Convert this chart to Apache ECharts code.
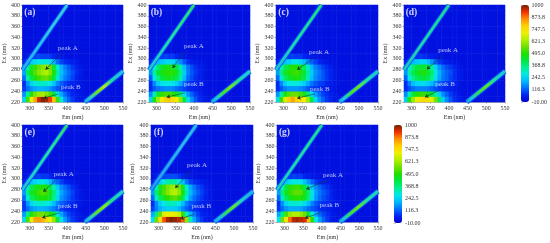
<!DOCTYPE html>
<html><head><meta charset="utf-8">
<style>html,body{margin:0;padding:0;background:#fff}#main{width:550px;height:243px;filter:blur(0.6px)}</style>
<script src="https://cdn.jsdelivr.net/npm/echarts@6/dist/echarts.min.js"></script>
</head><body><div id="main"></div>
<script>
const emBins=[285,295,305,315,325,335,345,355,365,375,385,395,405,415,425,435,445,455,465,475,485,495,505,515,525,535,545];
const exBins=[225,235,245,255,265,275,285,295,305];
const emTicks=[300,350,400,450,500,550];
const exTicks=[220,240,260,280,300,320,340,360,380,400];
const colorTicks=[-10,116.3,242.5,368.8,495,621.3,747.5,873.8,1000];
const colorTickLabels=['-10.00','116.3','242.5','368.8','495.0','621.3','747.5','873.8','1000'];
const panelNames=['(a)','(b)','(c)','(d)','(e)','(f)','(g)'];
const backgroundLevel=25;
const rayleighLine=[[280,280],[400,400]];
const secondOrderLine=[[448,220],[550,277]];
const lowerA=[
[250,520,700,830,950,990,970,920,800,520,300,180,120,80,50,40,30,25,25,25,25,25,25,25,25,25,25],
[170,340,500,580,620,630,600,540,430,290,190,130,90,60,50,40,30,25,25,25,25,25,25,25,25,25,25],
[80,130,170,190,200,200,190,170,140,110,90,70,60,50,40,30,30,25,25,25,25,25,25,25,25,25,25],
[70,170,250,290,310,310,300,280,230,160,120,90,70,60,50,40,30,25,25,25,25,25,25,25,25,25,25],
[130,330,420,480,520,550,560,520,430,300,200,150,120,90,60,40,30,25,25,25,25,25,25,25,25,25,25],
[190,400,480,540,590,620,640,590,490,340,220,170,130,100,70,50,30,25,25,25,25,25,25,25,25,25,25],
[170,340,450,510,560,590,610,560,450,300,200,150,110,80,60,40,30,25,25,25,25,25,25,25,25,25,25],
[60,130,230,260,280,290,290,260,200,130,90,70,60,50,40,30,25,25,25,25,25,25,25,25,25,25,25],
[30,40,70,90,100,90,90,80,60,50,40,30,25,25,25,25,25,25,25,25,25,25,25,25,25,25,25]];
const lowerB=[
[240,470,620,720,780,790,760,700,600,430,260,170,110,70,50,40,30,25,25,25,25,25,25,25,25,25,25],
[160,320,450,510,530,530,500,450,370,260,170,120,80,60,40,30,25,25,25,25,25,25,25,25,25,25,25],
[70,110,140,150,160,160,150,130,110,90,70,60,50,40,30,30,25,25,25,25,25,25,25,25,25,25,25],
[70,160,230,270,280,280,270,240,190,130,90,70,60,50,40,30,25,25,25,25,25,25,25,25,25,25,25],
[120,280,370,420,450,460,450,410,330,210,130,100,70,50,40,30,25,25,25,25,25,25,25,25,25,25,25],
[170,340,430,470,490,500,500,450,360,240,150,110,80,60,40,30,25,25,25,25,25,25,25,25,25,25,25],
[150,300,390,440,470,480,470,420,330,210,140,100,70,50,40,30,25,25,25,25,25,25,25,25,25,25,25],
[60,120,210,230,250,260,250,210,160,110,70,50,40,30,30,25,25,25,25,25,25,25,25,25,25,25,25],
[30,40,60,80,90,80,80,60,50,40,30,30,25,25,25,25,25,25,25,25,25,25,25,25,25,25,25]];
const lowerC=[
[260,520,680,790,830,780,760,720,620,420,260,170,120,80,60,40,30,25,25,25,25,25,25,25,25,25,25],
[170,340,480,540,560,560,530,480,380,260,180,130,90,70,50,40,30,25,25,25,25,25,25,25,25,25,25],
[70,110,150,170,170,170,160,140,110,90,80,70,60,50,40,30,25,25,25,25,25,25,25,25,25,25,25],
[70,160,240,280,290,290,270,240,190,140,110,90,80,60,50,40,30,25,25,25,25,25,25,25,25,25,25],
[130,300,390,440,470,480,460,410,320,220,160,130,110,80,60,40,30,25,25,25,25,25,25,25,25,25,25],
[180,360,450,490,510,520,500,430,340,240,170,140,110,80,60,40,30,25,25,25,25,25,25,25,25,25,25],
[160,320,410,460,490,490,460,400,310,210,150,120,90,70,50,30,25,25,25,25,25,25,25,25,25,25,25],
[60,120,220,240,270,280,250,210,160,120,90,60,50,40,30,30,25,25,25,25,25,25,25,25,25,25,25],
[30,40,60,80,90,80,80,60,50,40,30,30,25,25,25,25,25,25,25,25,25,25,25,25,25,25,25]];
const lowerD=[
[240,480,610,700,750,770,750,690,580,400,240,160,110,70,50,40,30,25,25,25,25,25,25,25,25,25,25],
[160,320,440,490,510,510,480,420,340,240,160,120,80,60,40,30,25,25,25,25,25,25,25,25,25,25,25],
[70,100,130,150,150,150,140,120,100,80,70,60,50,40,30,30,25,25,25,25,25,25,25,25,25,25,25],
[70,150,220,250,260,260,240,210,160,120,100,80,70,50,40,30,25,25,25,25,25,25,25,25,25,25,25],
[120,280,360,400,420,430,410,350,270,190,140,120,90,70,50,40,25,25,25,25,25,25,25,25,25,25,25],
[170,330,410,450,470,480,450,380,290,200,150,120,100,70,50,40,25,25,25,25,25,25,25,25,25,25,25],
[150,300,380,420,440,450,420,350,250,170,130,100,80,60,40,30,25,25,25,25,25,25,25,25,25,25,25],
[60,120,210,230,250,250,220,170,120,80,60,50,40,30,30,25,25,25,25,25,25,25,25,25,25,25,25],
[30,40,60,70,80,70,60,50,40,30,30,25,25,25,25,25,25,25,25,25,25,25,25,25,25,25,25]];
const lowerE=[
[260,530,700,830,840,820,760,700,610,440,270,180,120,80,60,40,30,25,25,25,25,25,25,25,25,25,25],
[180,360,490,540,570,570,540,500,430,290,190,130,90,70,50,40,30,25,25,25,25,25,25,25,25,25,25],
[80,130,170,190,200,200,190,170,150,120,90,70,60,50,40,30,25,25,25,25,25,25,25,25,25,25,25],
[80,170,250,290,300,300,290,270,220,160,120,100,80,70,50,40,30,25,25,25,25,25,25,25,25,25,25],
[130,300,390,440,470,490,480,440,360,260,170,140,110,80,60,40,30,25,25,25,25,25,25,25,25,25,25],
[180,360,440,490,520,540,520,460,380,280,190,150,120,90,60,40,30,25,25,25,25,25,25,25,25,25,25],
[160,320,410,450,480,490,470,410,330,230,160,130,100,70,50,30,25,25,25,25,25,25,25,25,25,25,25],
[60,120,220,250,270,280,260,210,160,120,90,60,50,40,30,30,25,25,25,25,25,25,25,25,25,25,25],
[30,40,60,80,90,80,80,60,50,40,30,30,25,25,25,25,25,25,25,25,25,25,25,25,25,25,25]];
const lowerF=[
[270,560,760,900,970,990,980,960,900,600,320,190,120,80,50,40,30,25,25,25,25,25,25,25,25,25,25],
[190,370,560,690,710,720,700,660,520,320,200,140,90,60,50,40,30,25,25,25,25,25,25,25,25,25,25],
[90,150,200,230,240,240,230,200,160,120,90,70,60,50,40,30,30,25,25,25,25,25,25,25,25,25,25],
[70,160,240,280,310,320,310,280,220,150,110,90,70,60,50,40,30,25,25,25,25,25,25,25,25,25,25],
[130,310,400,450,500,530,550,510,410,280,180,130,100,80,50,40,30,25,25,25,25,25,25,25,25,25,25],
[180,380,470,540,590,630,650,600,480,330,210,160,120,90,60,40,30,25,25,25,25,25,25,25,25,25,25],
[150,330,450,520,580,610,620,570,450,300,190,140,100,80,50,40,25,25,25,25,25,25,25,25,25,25,25],
[60,130,240,290,330,350,340,290,220,140,90,70,60,50,40,30,25,25,25,25,25,25,25,25,25,25,25],
[30,40,70,90,100,100,100,80,60,50,40,30,25,25,25,25,25,25,25,25,25,25,25,25,25,25,25]];
const lowerG=[
[280,560,740,880,960,970,960,940,800,480,280,180,120,80,50,40,30,25,25,25,25,25,25,25,25,25,25],
[190,370,530,610,640,640,610,560,440,280,190,130,90,70,50,40,30,25,25,25,25,25,25,25,25,25,25],
[80,130,170,190,190,190,180,160,130,110,90,70,60,50,40,30,25,25,25,25,25,25,25,25,25,25,25],
[70,170,250,290,300,300,290,260,210,150,110,90,70,60,50,40,30,25,25,25,25,25,25,25,25,25,25],
[130,310,400,450,490,500,490,450,370,260,170,130,100,80,60,40,30,25,25,25,25,25,25,25,25,25,25],
[180,370,460,510,540,550,540,470,380,270,180,140,110,90,60,40,30,25,25,25,25,25,25,25,25,25,25],
[160,330,430,480,510,520,490,420,320,220,160,120,90,70,50,30,25,25,25,25,25,25,25,25,25,25,25],
[60,130,230,260,280,290,270,220,170,120,80,60,50,40,30,30,25,25,25,25,25,25,25,25,25,25,25],
[30,40,60,80,90,80,80,60,50,40,30,30,25,25,25,25,25,25,25,25,25,25,25,25,25,25,25]];
const panelLower=[lowerA,lowerB,lowerC,lowerD,lowerE,lowerF,lowerG];
// colours read along each scatter band, low end to high end
const rayleighColors=[
['#20b0f0','#30c0e8','#40d0d8'],
['#20c0e0','#20e0a0','#30e060'],
['#20c0d8','#20dca0','#20e070'],
['#20c8c0','#20d8a0','#20d890'],
['#20c0e0','#20e0a8','#30e060'],
['#2098f0','#30b0e8','#30c0e0'],
['#20c8c8','#20dca0','#20e080']];
const secondOrderColors=[
['#1890f0','#20c8e0','#70e020','#c0e810','#20d8a0','#20c0e0','#20c8e0'],
['#1890f0','#20c8d8','#40e030','#80e020','#20e090','#20c8d8','#20d8c0'],
['#1890f0','#20c8d8','#40e030','#70e020','#20e090','#20c8d0','#20d0b0'],
['#1890f0','#20c0d8','#30e050','#60e020','#20e090','#20c8d0','#20c8c0'],
['#1890f0','#20c8d8','#60e020','#90e810','#20e080','#20d0c8','#20d8b0'],
['#1890f0','#20b8e8','#30e050','#70e020','#20d0c0','#20b0e8','#20b8e8'],
['#1890f0','#20c8d0','#40e030','#70e020','#20e090','#20d0c8','#20d8a8']];
// label and arrow anchors in data units: [Em, Ex]
const peakALabels=[[402,319],[400,324],[394,312],[398,317],[391,309],[402,325],[430,307]];
const peakBLabels=[[410,248],[400,254],[396,244],[390,253],[402,250],[413,250],[420,251]];
const arrowsA=[[[386,311],[342,280]],[[376,314],[343,283]],[[377,300],[336,280]],[[381,304],[341,281]],[[373,300],[336,276]],[[386,315],[344,283]],[[413,297],[358,281]]];
const arrowsB=[[[377,235],[337,227]],[[376,237],[327,229]],[[383,235],[336,227]],[[372,241],[336,229]],[[380,237],[333,228]],[[393,234],[358,226]],[[398,238],[355,227]]];
const nameAnchor=[300,386];

const boxes=[[22,5,101,97],[149,5,101,97],[276,5,102,97],[404,5,101,97],[22,125,101,97],[151,125,102,97],[277,125,101,97]];
const barBoxes=[[521,5,8,97],[394,125,8,98]];
const ramp=['#0000d0','#0024f0','#0070ff','#00b8ff','#00e8e8','#00f090','#00e840','#20e000','#70e000','#b0f000','#f0f000','#ffd000','#ff9000','#f03000','#702000'];
const FONT='"Liberation Serif",serif', INK='#333';
const grid=[],xAxis=[],yAxis=[],series=[],overlay=[];
const gradient=(cols,x2,y2,y)=>({type:'linear',x:0,y:y,x2:x2,y2:y2,colorStops:cols.map((c,i)=>({offset:i/(cols.length-1),color:c}))});
const bandLine=(i,pts,cols,width)=>({type:'line',xAxisIndex:2*i+1,yAxisIndex:2*i+1,data:pts,showSymbol:false,silent:true,z:3,clip:true,
  lineStyle:{width,cap:'butt',color:gradient(cols,1,0,1)}});
panelLower.forEach((lower,i)=>{
  const [l,t,w,h]=boxes[i];
  grid.push({left:l,top:t,width:w,height:h});
  const exAll=exBins.concat([315,325,335,345,355,365,375,385,395]);
  xAxis.push({type:'category',gridIndex:i,data:emBins.map(String),show:false});
  yAxis.push({type:'category',gridIndex:i,data:exAll.map(String),show:false});
  const data=[];
  exAll.forEach((ex,r)=>emBins.forEach((em,c)=>data.push([c,r,r<lower.length?lower[r][c]:backgroundLevel])));
  series.push({type:'heatmap',xAxisIndex:2*i,yAxisIndex:2*i,data,progressive:0,itemStyle:{borderWidth:0},emphasis:{disabled:true}});
  xAxis.push({type:'value',gridIndex:i,min:280,max:550,position:'bottom',name:'Em (nm)',nameLocation:'middle',nameGap:12,
    nameTextStyle:{fontFamily:FONT,fontSize:6,color:INK},splitLine:{show:false},
    axisLine:{show:true,onZero:false,lineStyle:{color:'#666',width:0.5}},
    axisTick:{show:true,length:1.5,lineStyle:{color:'#666',width:0.5},customValues:emTicks},
    axisLabel:{fontFamily:FONT,fontSize:6,color:INK,margin:3,customValues:emTicks,hideOverlap:false,showMinLabel:true,showMaxLabel:true}});
  yAxis.push({type:'value',gridIndex:i,min:220,max:400,position:'left',name:'Ex (nm)',nameLocation:'middle',nameGap:14,
    nameTextStyle:{fontFamily:FONT,fontSize:6,color:INK},splitLine:{show:false},
    axisLine:{show:true,onZero:false,lineStyle:{color:'#666',width:0.5}},
    axisTick:{show:true,length:1.5,lineStyle:{color:'#666',width:0.5},customValues:exTicks},
    axisLabel:{fontFamily:FONT,fontSize:6,color:INK,margin:2.5,customValues:exTicks,hideOverlap:false,showMinLabel:true,showMaxLabel:true}});
  overlay.push(bandLine(i,rayleighLine,['#0060f8','#0060f8','#0060f8'],4.5));
  overlay.push(bandLine(i,rayleighLine,rayleighColors[i],2.6));
  overlay.push(bandLine(i,secondOrderLine,['#0060f8','#0060f8','#0060f8'],5));
  overlay.push(bandLine(i,secondOrderLine,secondOrderColors[i],3));
  const txt=(pos,s,font)=>({value:pos,label:Object.assign({show:true,position:'inside',formatter:s,color:'#dde6ff',fontFamily:FONT,fontSize:7},font||{})});
  overlay.push({type:'scatter',xAxisIndex:2*i+1,yAxisIndex:2*i+1,symbolSize:2,itemStyle:{color:'rgba(0,0,0,0)'},silent:true,z:5,
    data:[txt(peakALabels[i],'peak A'),txt(peakBLabels[i],'peak B'),txt(nameAnchor,panelNames[i],{color:'#fff',fontWeight:'bold',fontSize:9.5})],
    markLine:{silent:true,animation:false,symbol:['none','arrow'],symbolSize:3.5,label:{show:false},lineStyle:{color:'#143c28',width:0.6,type:'solid'},
      data:[[{coord:arrowsA[i][0]},{coord:arrowsA[i][1]}],[{coord:arrowsB[i][0]},{coord:arrowsB[i][1]}]]}});
});
const visualMap=[];
barBoxes.forEach((b,k)=>{
  const [l,t,w,h]=b, gi=grid.length, ai=xAxis.length;
  grid.push({left:l,top:t,width:w,height:h});
  xAxis.push({type:'value',gridIndex:gi,show:false,min:0,max:1});
  yAxis.push({type:'value',gridIndex:gi,min:-10,max:1000,position:'right',splitLine:{show:false},axisLine:{show:false},
    axisTick:{show:true,length:1.5,lineStyle:{color:'#666',width:0.5},customValues:colorTicks},
    axisLabel:{fontFamily:FONT,fontSize:6,color:INK,margin:3,customValues:colorTicks,showMinLabel:true,showMaxLabel:true,
      formatter:v=>colorTickLabels[colorTicks.indexOf(v)]}});
  visualMap.push({type:'continuous',min:-10,max:1000,seriesIndex:k===0?[0,1,2,3]:[4,5,6],left:l,top:t,itemWidth:w,itemHeight:h,padding:0,
    calculable:false,hoverLink:false,text:null,showLabel:false,inRange:{color:ramp}});
  overlay.push({type:'scatter',xAxisIndex:ai,yAxisIndex:ai,data:[],silent:true});
});
const chart=echarts.init(document.getElementById('main'),null,{renderer:'canvas'});
chart.setOption({animation:false,backgroundColor:'#fff',grid,xAxis,yAxis,visualMap,series:series.concat(overlay)});
</script></body></html>
